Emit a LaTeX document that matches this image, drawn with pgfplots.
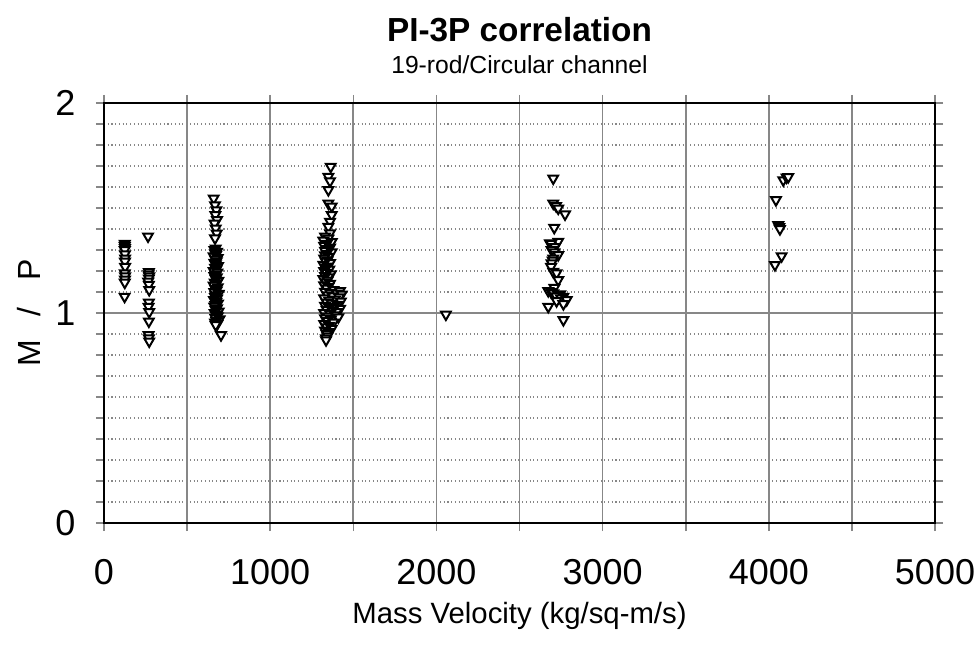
\documentclass[border=0pt]{standalone}
\usepackage{pgfplots}
\pgfplotsset{compat=1.18}
\usepackage{fontspec}
\setmainfont{Liberation Sans}
\definecolor{gridgray}{RGB}{135,135,135}
\begin{document}
\begin{tikzpicture}
\begin{axis}[
  scale only axis,
  width=623.25pt, height=315pt,
  xmin=0, xmax=5000, ymin=0, ymax=2,
  xtick={0,1000,2000,3000,4000,5000},
  minor xtick={500,1500,2500,3500,4500},
  ytick={0,1,2},
  minor ytick={0.1,0.2,0.3,0.4,0.5,0.6,0.7,0.8,0.9,1.1,1.2,1.3,1.4,1.5,1.6,1.7,1.8,1.9},
  /pgf/number format/assume math mode=true,
  /pgf/number format/set thousands separator={},
  scaled x ticks=false,
  xticklabel style={font=\fontsize{27}{32}\selectfont, yshift=-18pt},
  yticklabel style={font=\fontsize{27}{32}\selectfont, xshift=-12pt},
  tick align=outside,
  major tick length=6pt, minor tick length=6pt,
  tick style={gridgray, line width=1.2pt},
  xmajorgrids, xminorgrids, ymajorgrids, yminorgrids,
  x grid style={gridgray, line width=1.3pt},
  major y grid style={gridgray, line width=1.3pt},
  minor y grid style={gridgray, line width=0.8pt, dotted},
  axis line style={black, line width=1.4pt},
  clip=false,
]
\addplot[only marks, mark=triangle*, mark size=4.2pt,
  mark options={rotate=180, fill=white, draw=black, line width=1.5pt}]
coordinates {
(125,1.33)(125,1.32)(126,1.31)(125,1.30)(126,1.28)(127,1.26)(126,1.245)(127,1.22)(125,1.19)(127,1.175)(126,1.16)(125,1.145)(124,1.078)
(265,1.365)(270,1.195)(268,1.185)(272,1.175)(270,1.165)(266,1.15)(270,1.135)(272,1.11)(270,1.05)(268,1.03)(272,1.005)(270,0.96)(268,0.895)(270,0.88)(272,0.865)
(660,1.546)(668,1.514)(676,1.490)(670,1.467)(680,1.443)(665,1.427)(672,1.403)(678,1.379)(668,1.356)
(672,1.308)(665,1.300)(680,1.292)(668,1.285)(675,1.278)(660,1.270)(684,1.262)(670,1.255)(678,1.247)(664,1.240)(672,1.232)(686,1.224)(668,1.216)(676,1.208)(660,1.200)(682,1.193)(670,1.185)(664,1.177)(678,1.170)(672,1.162)(688,1.154)(666,1.146)(675,1.139)(660,1.131)(684,1.123)(670,1.115)(678,1.108)(664,1.100)(690,1.092)(672,1.085)(668,1.077)(680,1.069)(662,1.062)(676,1.054)(686,1.046)(670,1.038)(664,1.031)(680,1.023)(672,1.015)(690,1.008)(666,1.000)(678,0.992)(684,0.985)(670,0.977)(695,0.970)(676,0.962)(668,0.955)(682,0.948)(672,0.943)(704,0.895)
(1364,1.697)(1350,1.649)(1360,1.628)(1350,1.586)(1350,1.522)(1370,1.508)(1370,1.467)(1360,1.435)(1350,1.411)(1360,1.380)
(1330,1.365)(1350,1.355)(1320,1.345)(1370,1.338)(1340,1.330)(1325,1.320)(1360,1.312)(1345,1.305)(1330,1.297)(1370,1.290)(1340,1.283)
(1330,1.275)(1350,1.268)(1325,1.260)(1345,1.252)(1335,1.245)(1360,1.238)(1320,1.230)(1345,1.222)(1335,1.215)(1355,1.207)(1325,1.200)(1340,1.192)(1365,1.185)(1330,1.177)(1350,1.170)(1320,1.162)(1345,1.155)(1335,1.147)(1360,1.140)(1325,1.132)(1350,1.125)(1340,1.117)
(1380,1.110)(1420,1.105)(1330,1.102)(1360,1.097)(1400,1.093)(1430,1.088)(1345,1.085)(1375,1.080)(1415,1.075)(1325,1.070)(1390,1.065)(1355,1.060)(1425,1.055)(1340,1.050)(1370,1.045)(1405,1.040)(1330,1.035)(1385,1.030)(1355,1.025)(1420,1.020)(1340,1.015)(1375,1.010)(1400,1.005)(1325,1.000)(1360,0.995)(1390,0.990)(1345,0.985)(1410,0.980)
(1330,0.975)(1365,0.970)(1345,0.962)(1380,0.955)(1325,0.948)(1355,0.940)(1340,0.932)(1370,0.925)(1330,0.917)(1350,0.910)(1340,0.900)(1345,0.890)(1335,0.880)(1336,0.871)
(2057,0.993)
(2703,1.641)(2703,1.522)(2720,1.510)(2733,1.498)(2774,1.470)(2709,1.406)
(2733,1.340)(2683,1.332)(2690,1.330)(2713,1.315)(2693,1.300)(2710,1.290)(2733,1.276)(2703,1.260)(2700,1.250)(2693,1.237)(2690,1.220)(2703,1.197)(2723,1.190)(2733,1.157)(2710,1.120)(2673,1.105)(2690,1.100)(2703,1.094)(2745,1.090)(2733,1.086)(2720,1.080)(2764,1.078)(2750,1.070)(2784,1.062)(2723,1.057)(2764,1.043)(2673,1.030)(2764,0.967)
(4087,1.633)(4107,1.646)(4117,1.648)(4043,1.538)(4057,1.419)(4063,1.410)(4067,1.400)(4077,1.271)(4037,1.229)
};
\coordinate (sw) at (rel axis cs:0,0);
\coordinate (ne) at (rel axis cs:1,1);
\coordinate (top) at (rel axis cs:0.5,1);
\coordinate (bot) at (rel axis cs:0.5,0);
\coordinate (lft) at (rel axis cs:0,0.5);
\end{axis}
\node[font=\bfseries\fontsize{25}{30}\selectfont] at ([yshift=54.75pt]top) {PI-3P correlation};
\node[font=\fontsize{18.5}{22}\selectfont] at ([yshift=28.5pt]top) {19-rod/Circular channel};
\node[font=\fontsize{22}{26}\selectfont] at ([yshift=-70pt]bot) {Mass Velocity (kg/sq-m/s)};
\node[font=\fontsize{24}{28}\selectfont, rotate=90] at ([xshift=-56pt]lft) {M\hspace{18pt}/\hspace{20pt}P};
\pgfresetboundingbox
\path[use as bounding box] ([xshift=-78pt,yshift=-90.75pt]sw) rectangle ([xshift=32.25pt,yshift=77.25pt]ne);
\end{tikzpicture}
\end{document}
